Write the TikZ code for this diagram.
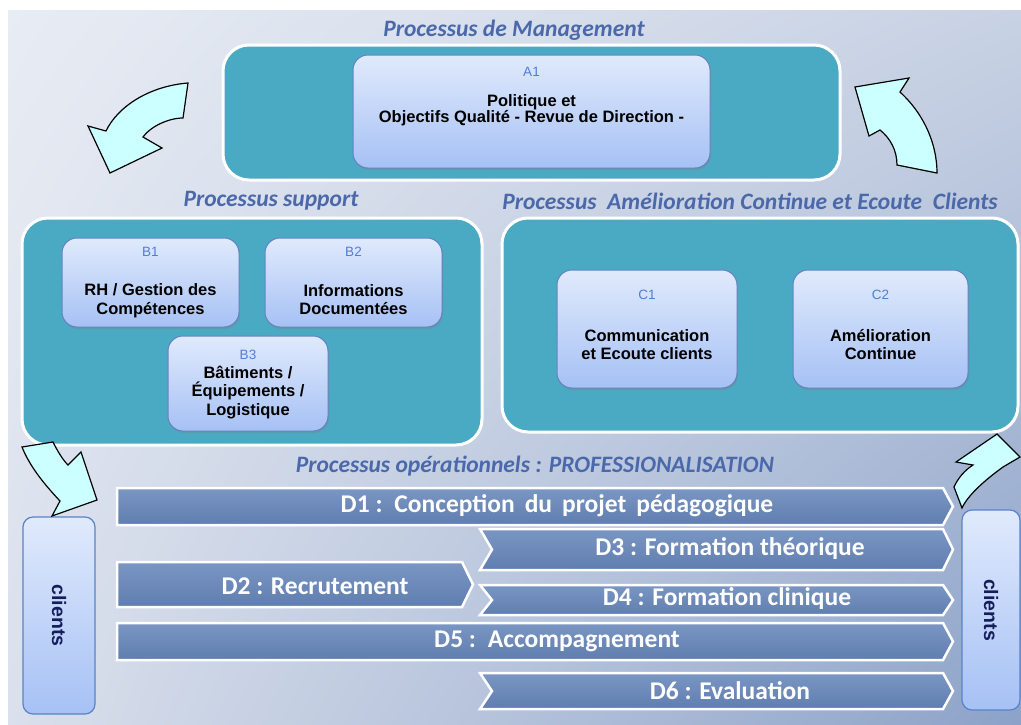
\documentclass[tikz,border=0pt]{standalone}
\usepackage{fontspec}
\setmainfont{Liberation Sans}
\newfontfamily\calib{Carlito}
\usetikzlibrary{positioning,shadows,shadings}

\definecolor{procteal}{RGB}{74,170,195}
\definecolor{acttop}{RGB}{224,234,252}
\definecolor{actbot}{RGB}{166,193,245}
\definecolor{actborder}{RGB}{100,130,195}
\definecolor{lblblue}{RGB}{80,125,215}
\definecolor{ttlblue}{RGB}{75,105,170}
\definecolor{dtop}{RGB}{122,150,195}
\definecolor{dbot}{RGB}{95,125,175}
\definecolor{cyclefill}{RGB}{204,255,255}
\definecolor{cliborder}{RGB}{90,130,200}
\definecolor{clinavy}{RGB}{20,30,90}
\definecolor{bgul}{RGB}{232,236,244}
\definecolor{bgur}{RGB}{200,210,228}
\definecolor{bgll}{RGB}{218,224,236}
\definecolor{bglr}{RGB}{140,162,200}

\newcommand\bxfont{\fontsize{16.5}{18.5}\selectfont\bfseries}
\newcommand\lbfont{\fontsize{13.5}{15}\selectfont}
\newcommand\ttlfont{\calib\fontsize{23.5}{26}\selectfont\bfseries\itshape}
\newcommand\dtxfont{\calib\fontsize{25.5}{28}\selectfont\bfseries}
\newcommand\clfont{\fontsize{19.5}{22}\selectfont\bfseries}

\begin{document}
\begin{tikzpicture}[x=1pt,y=-1pt,
  grpbox/.style={draw=white, line width=3pt, fill=procteal, rounded corners=26pt, inner sep=0pt},
  actbox/.style={draw=actborder, line width=1pt, top color=acttop, bottom color=actbot,
    rounded corners=15pt, inner sep=0pt,
    drop shadow={shadow xshift=1pt, shadow yshift=-2pt, opacity=.35}},
  lbl/.style={font=\lbfont, text=lblblue, inner sep=0pt},
  txt/.style={font=\bxfont, align=center, inner sep=0pt},
  ttl/.style={font=\ttlfont, text=ttlblue, inner sep=0pt},
  darrow/.style={draw=white, line width=2.5pt, top color=dtop, bottom color=dbot, line join=miter},
  dtxt/.style={font=\dtxfont, text=white, inner sep=0pt},
  cycarrow/.style={draw=black, line width=1.2pt, fill=cyclefill, line join=miter},
  clibox/.style={draw=cliborder, line width=1.2pt, top color=acttop, bottom color=actbot,
    rounded corners=10pt, inner sep=0pt},
  clitxt/.style={font=\clfont, text=clinavy, rotate=-90, inner sep=0pt}]

  \useasboundingbox (0,0) rectangle (1021,724);
  \fill[white] (0,0) rectangle (1021,724);
  \shade[upper left=bgul, upper right=bgur, lower left=bgll, lower right=bglr] (8,10) rectangle (1021,724);

  % management
  \node[ttl] (ttlmgmt) at (514,30) {Processus de Management};
  \node[grpbox, minimum width=617pt, minimum height=135pt] (mgmt) at (531.5,112.5) {};
  \node[actbox, minimum width=357pt, minimum height=113pt] (a1) at (531.5,111.5) {};
  \node[lbl] (a1lbl) at ([yshift=-17pt]a1.north) {A1};
  \node[txt, align=center] (a1txt) at ([yshift=-56pt]a1.north) {Politique et\\[-2.5pt]Objectifs Qualité - Revue de Direction -};

  % support
  \node[ttl] (ttlsupp) at (271,201) {Processus support};
  \node[grpbox, minimum width=460pt, minimum height=227pt] (supp) at (252,331.5) {};
  \node[actbox, minimum width=177pt, minimum height=89pt] (b1) at (150.5,282.5) {};
  \node[lbl] (b1lbl) at ([yshift=-14pt]b1.north) {B1};
  \node[txt] (b1txt) at ([yshift=-63pt]b1.north) {RH / Gestion des\\Compétences};
  \node[actbox, minimum width=177pt, minimum height=89pt] (b2) at (353.5,282.5) {};
  \node[lbl] (b2lbl) at ([yshift=-14pt]b2.north) {B2};
  \node[txt] (b2txt) at ([yshift=-62pt]b2.north) {Informations\\Documentées};
  \node[actbox, minimum width=160pt, minimum height=95pt] (b3) at (248,383.5) {};
  \node[lbl] (b3lbl) at ([yshift=-19pt]b3.north) {B3};
  \node[txt] (b3txt) at ([yshift=-57pt]b3.north) {Bâtiments /\\Équipements /\\Logistique};

  % amelioration continue
  \node[ttl] (ttlamel) at (750,201) {Processus ~Amélioration Continue et Ecoute ~Clients};
  \node[grpbox, minimum width=516pt, minimum height=214pt] (amel) at (760,325) {};
  \node[actbox, minimum width=180pt, minimum height=118pt] (c1) at (647,329) {};
  \node[lbl] (c1lbl) at ([yshift=-25pt]c1.north) {C1};
  \node[txt] (c1txt) at ([yshift=-75pt]c1.north) {Communication\\et Ecoute clients};
  \node[actbox, minimum width=175pt, minimum height=118pt] (c2) at (880.5,329) {};
  \node[lbl] (c2lbl) at ([yshift=-25pt]c2.north) {C2};
  \node[txt] (c2txt) at ([yshift=-75pt]c2.north) {Amélioration\\Continue};

  % operationnels
  \node[ttl] (ttlop) at (535,466) {Processus opérationnels : PROFESSIONALISATION};
  \draw[darrow] (117,488) -- (943,488) -- (953,506.5) -- (943,525) -- (117,525) -- cycle;
  \node[dtxt] (d1) at (557,506) {D1 :\, Conception\, du\, projet\, pédagogique};
  \draw[darrow] (480,529) -- (943,529) -- (953,549.5) -- (943,570) -- (480,570) -- (492,549.5) -- cycle;
  \node[dtxt] (d3) at (730,549) {D3 : Formation théorique};
  \draw[darrow] (117,562) -- (462,562) -- (473,584.5) -- (462,607) -- (117,607) -- cycle;
  \node[dtxt] (d2) at (315,586) {D2 : Recrutement};
  \draw[darrow] (480,585) -- (943,585) -- (953,600) -- (943,615) -- (480,615) -- (492,600) -- cycle;
  \node[dtxt] (d4) at (727,599) {D4 : Formation clinique};
  \draw[darrow] (117,623) -- (943,623) -- (953,641.5) -- (943,660) -- (117,660) -- cycle;
  \node[dtxt] (d5) at (557,641) {D5 :\, Accompagnement};
  \draw[darrow] (480,673) -- (943,673) -- (953,691) -- (943,709) -- (480,709) -- (492,691) -- cycle;
  \node[dtxt] (d6) at (730,691) {D6 : Evaluation};

  % clients
  \node[clibox, minimum width=72pt, minimum height=197pt] (clil) at (59,615.5) {};
  \node[clitxt] (clitxtl) at (clil.center) {clients};
  \node[clibox, minimum width=58pt, minimum height=200pt] (clir) at (991,610) {};
  \node[clitxt] (clitxtr) at (clir.center) {clients};

  % cycle arrows
  \draw[cycarrow] (188,83) -- (183,118) .. controls (168,118) and (150,127) .. (143,137)
    -- (162,148) -- (110,173) -- (88,126) -- (106,131) .. controls (118,106) and (150,86) .. cycle;
  \draw[cycarrow] (855,87) -- (909,78) -- (900,92) .. controls (925,115) and (937,145) .. (937,173)
    -- (897,165) .. controls (897,150) and (890,138) .. (880,130) -- (869,136) -- cycle;
  \draw[cycarrow] (22,447) -- (53,442) .. controls (58,452) and (63,460) .. (68,465)
    -- (81,452) -- (97,500) -- (52,516) -- (60,501) .. controls (45,485) and (30,467) .. cycle;
  \draw[cycarrow] (997,434) -- (1020,457) -- (1003,467) .. controls (985,480) and (968,495) .. (962,508)
    -- (954,487) .. controls (958,478) and (965,470) .. (973,465) -- (956,462) -- cycle;
\end{tikzpicture}
\end{document}
